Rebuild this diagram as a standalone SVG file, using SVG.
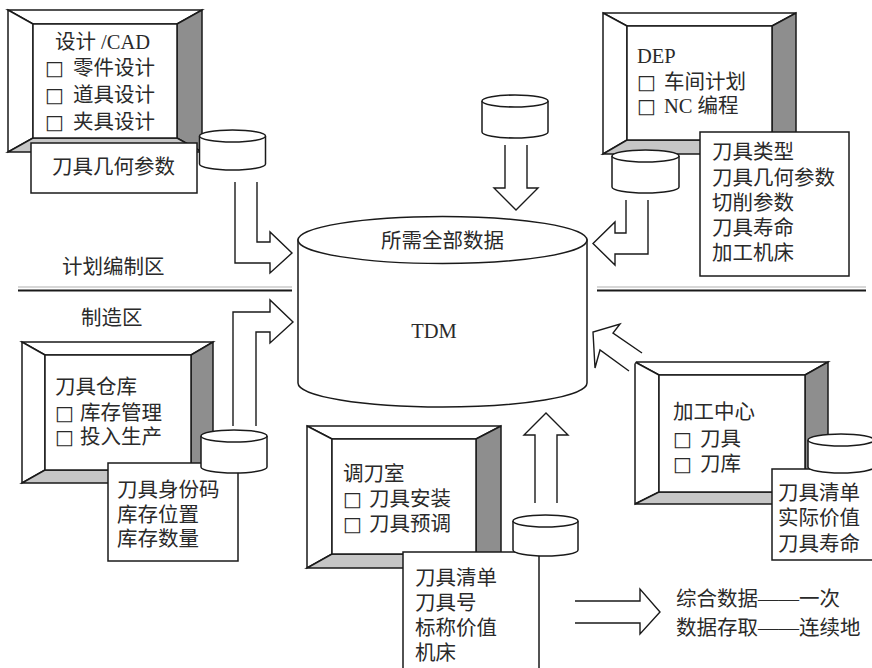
<svg xmlns="http://www.w3.org/2000/svg" width="872" height="668" viewBox="0 0 872 668">
<style>
  .t { font-family: "Liberation Serif", "Noto Sans CJK SC", serif; font-size: 20.5px; fill: #2a2a2a; }
  .b { font-family: "DejaVu Sans", sans-serif; font-size: 20px; fill: #2a2a2a; }
  .s { stroke: #1a1a1a; stroke-width: 1.5; stroke-linejoin: miter; }
  .w { fill: #ffffff; }
  .dk { fill: #8e8e8e; }
  .lt { fill: #c6c6c6; }
  .ar { fill: #ffffff; stroke: #1a1a1a; stroke-width: 1.4; }
</style>
<rect width="872" height="668" fill="#ffffff"/>

<!-- separators -->
<g id="separators">
  <line x1="18" y1="287" x2="292" y2="287" stroke="#b0b0b0" stroke-width="1.2"/>
  <line x1="18" y1="290.5" x2="292" y2="290.5" stroke="#1a1a1a" stroke-width="2"/>
  <line x1="597" y1="287" x2="866" y2="287" stroke="#b0b0b0" stroke-width="1.2"/>
  <line x1="597" y1="290.5" x2="866" y2="290.5" stroke="#1a1a1a" stroke-width="2"/>
  <text class="t" x="62" y="274">计划编制区</text>
  <text class="t" x="81" y="325">制造区</text>
</g>

<!-- central database -->
<g id="tdm">
  <path class="s w" d="M298,240 V383 A144.5,24 0 0 0 587,383 V240 Z"/>
  <ellipse class="s w" cx="442.5" cy="240" rx="144.5" ry="23.5"/>
  <text class="t" x="442.5" y="248" text-anchor="middle">所需全部数据</text>
  <text class="t" x="434" y="338" text-anchor="middle">TDM</text>
</g>

<!-- CAD node -->
<g id="cad">
  <polygon class="s w" points="8,10 202,10 177,24 33,24"/>
  <polygon class="s w" points="8,10 33,24 33,138 8,152"/>
  <polygon class="s dk" points="202,10 202,152 177,138 177,24"/>
  <polygon class="s lt" points="8,152 202,152 177,138 33,138"/>
  <rect class="s w" x="33" y="24" width="144" height="114"/>
  <text class="t" x="55" y="49">设计 /CAD</text>
  <text class="b" x="45" y="75">□</text><text class="t" x="73" y="75">零件设计</text>
  <text class="b" x="45" y="102">□</text><text class="t" x="73" y="102">道具设计</text>
  <text class="b" x="45" y="129">□</text><text class="t" x="73" y="129">夹具设计</text>
  <rect class="s w" x="31" y="143" width="166" height="50"/>
  <text class="t" x="52" y="174">刀具几何参数</text>
  <path class="s w" d="M199.5,136 V164 A33,6 0 0 0 265.5,164 V136"/>
  <ellipse class="s w" cx="232.5" cy="136" rx="33" ry="6"/>
</g>

<!-- top centre database -->
<g id="db-top">
  <path class="s w" d="M482,101 V132 A33,6 0 0 0 548,132 V101"/>
  <ellipse class="s w" cx="515" cy="101" rx="33" ry="6"/>
</g>

<!-- DEP node -->
<g id="dep">
  <polygon class="s w" points="603,13 796,13 772,26 627,26"/>
  <polygon class="s w" points="603,13 627,26 627,140 603,154"/>
  <polygon class="s dk" points="796,13 796,154 772,140 772,26"/>
  <polygon class="s lt" points="603,154 796,154 772,140 627,140"/>
  <rect class="s w" x="627" y="26" width="145" height="114"/>
  <text class="t" x="637" y="63">DEP</text>
  <text class="b" x="637" y="89">□</text><text class="t" x="664" y="89">车间计划</text>
  <text class="b" x="637" y="113">□</text><text class="t" x="664" y="113">NC 编程</text>
  <rect class="s w" x="700" y="132" width="149" height="144"/>
  <text class="t" x="712" y="159">刀具类型</text>
  <text class="t" x="712" y="185">刀具几何参数</text>
  <text class="t" x="712" y="210">切削参数</text>
  <text class="t" x="712" y="235">刀具寿命</text>
  <text class="t" x="712" y="260">加工机床</text>
  <path class="s w" d="M612,156 V187 A33.5,6 0 0 0 679,187 V156"/>
  <ellipse class="s w" cx="645.5" cy="156" rx="33.5" ry="6"/>
</g>

<!-- tool warehouse -->
<g id="warehouse">
  <polygon class="s w" points="22,342 213,342 191,355 45,355"/>
  <polygon class="s w" points="22,342 45,355 45,470 22,483"/>
  <polygon class="s dk" points="213,342 213,483 191,470 191,355"/>
  <polygon class="s lt" points="22,483 213,483 191,470 45,470"/>
  <rect class="s w" x="45" y="355" width="146" height="115"/>
  <text class="t" x="55" y="394">刀具仓库</text>
  <text class="b" x="55" y="420">□</text><text class="t" x="80" y="420">库存管理</text>
  <text class="b" x="55" y="444">□</text><text class="t" x="80" y="444">投入生产</text>
  <rect class="s w" x="108" y="463" width="130" height="98"/>
  <text class="t" x="117" y="497">刀具身份码</text>
  <text class="t" x="117" y="522">库存位置</text>
  <text class="t" x="117" y="546">库存数量</text>
  <path class="s w" d="M201,436 V467 A33,6 0 0 0 267,467 V436"/>
  <ellipse class="s w" cx="234" cy="436" rx="33" ry="6"/>
</g>

<!-- tool setting room -->
<g id="setting">
  <polygon class="s w" points="307,426 501,426 476,439 332,439"/>
  <polygon class="s w" points="307,426 332,439 332,554 307,568"/>
  <polygon class="s dk" points="501,426 501,568 476,554 476,439"/>
  <polygon class="s lt" points="307,568 501,568 476,554 332,554"/>
  <rect class="s w" x="332" y="439" width="144" height="115"/>
  <text class="t" x="343" y="481">调刀室</text>
  <text class="b" x="343" y="506">□</text><text class="t" x="369" y="506">刀具安装</text>
  <text class="b" x="343" y="531">□</text><text class="t" x="369" y="531">刀具预调</text>
  <rect class="s w" x="403" y="552" width="136" height="120"/>
  <text class="t" x="415" y="585">刀具清单</text>
  <text class="t" x="415" y="610">刀具号</text>
  <text class="t" x="415" y="635">标称价值</text>
  <text class="t" x="415" y="660">机床</text>
  <path class="s w" d="M513,521 V550 A32.5,6 0 0 0 578,550 V521"/>
  <ellipse class="s w" cx="545.5" cy="521" rx="32.5" ry="6"/>
</g>

<!-- machining centre -->
<g id="machining">
  <polygon class="s w" points="635,362 828,362 805,375 659,375"/>
  <polygon class="s w" points="635,362 659,375 659,492 635,504"/>
  <polygon class="s dk" points="828,362 828,504 805,492 805,375"/>
  <polygon class="s lt" points="635,504 828,504 805,492 659,492"/>
  <rect class="s w" x="659" y="375" width="146" height="117"/>
  <text class="t" x="673" y="419">加工中心</text>
  <text class="b" x="673" y="446">□</text><text class="t" x="700" y="446">刀具</text>
  <text class="b" x="673" y="471">□</text><text class="t" x="700" y="471">刀库</text>
  <rect class="s w" x="772" y="469" width="104" height="91"/>
  <text class="t" x="778" y="500">刀具清单</text>
  <text class="t" x="778" y="525">实际价值</text>
  <text class="t" x="778" y="551">刀具寿命</text>
  <path class="s w" d="M808,440 V467 A33,6 0 0 0 874,467 V440"/>
  <ellipse class="s w" cx="841" cy="440" rx="33" ry="6"/>
</g>

<!-- connectors -->
<g id="connectors">
  <path class="ar" d="M235,182 V263 H270 V273 L292,253 L270,232 V242 H257 V182"/>
  <path class="ar" d="M505,145 V188 H494 L516,210 L538,188 H527 V145"/>
  <path class="ar" d="M626,200 V233 H615 V222 L593,243.5 L615,265 V254 H648 V200"/>
  <path class="ar" d="M233,426 V312 H270 V300 L293,322 L270,343 V332 H256 V426"/>
  <path class="ar" d="M535,503 V435 H524 L546,413 L568,435 H557 V503"/>
  <path class="ar" d="M642,353 L613,333 L620,324 L593,332 L595,368 L600,350 L629,371"/>
  <path class="ar" d="M575,601 H640 V589 L660,612 L640,634 V623 H575"/>
</g>

<!-- legend text -->
<g id="legend">
  <text class="t" x="676" y="606">综合数据——一次</text>
  <text class="t" x="676" y="635">数据存取——连续地</text>
</g>
</svg>
